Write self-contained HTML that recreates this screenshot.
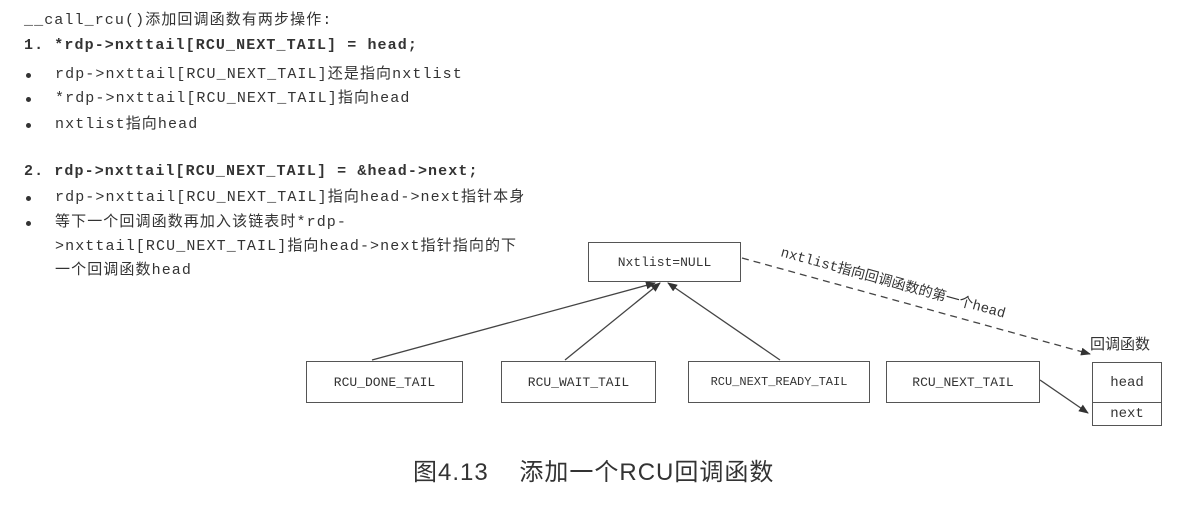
<!DOCTYPE html>
<html><head><meta charset="utf-8"><style>
body{margin:0;width:1190px;height:516px;background:#fff;position:relative;overflow:hidden;font-family:"Liberation Mono","Noto Sans CJK SC",monospace;color:#333}
.t{position:absolute;font-size:15px;letter-spacing:1.1px;white-space:nowrap;line-height:18px}
.b{font-weight:bold}
.box{position:absolute;border:1.3px solid #555;box-sizing:border-box;display:flex;align-items:center;justify-content:center;font-size:13px;background:#fff}
.dot{position:absolute;width:5px;height:5px;border-radius:50%;background:#333}
</style></head><body>
<div class="t" style="left:24px;top:12px">__call_rcu()添加回调函数有两步操作:</div>
<div class="t b" style="left:24px;top:37px">1. *rdp-&gt;nxttail[RCU_NEXT_TAIL] = head;</div>
<div class="dot" style="left:26px;top:73px"></div><div class="t" style="left:55px;top:66px">rdp-&gt;nxttail[RCU_NEXT_TAIL]还是指向nxtlist</div>
<div class="dot" style="left:26px;top:97px"></div><div class="t" style="left:55px;top:90px">*rdp-&gt;nxttail[RCU_NEXT_TAIL]指向head</div>
<div class="dot" style="left:26px;top:123px"></div><div class="t" style="left:55px;top:116px">nxtlist指向head</div>
<div class="t b" style="left:24px;top:163px">2. rdp-&gt;nxttail[RCU_NEXT_TAIL] = &amp;head-&gt;next;</div>
<div class="dot" style="left:26px;top:196px"></div><div class="t" style="left:55px;top:189px">rdp-&gt;nxttail[RCU_NEXT_TAIL]指向head-&gt;next指针本身</div>
<div class="dot" style="left:26px;top:221px"></div><div class="t" style="left:55px;top:214px">等下一个回调函数再加入该链表时*rdp-</div>
<div class="t" style="left:55px;top:238px">&gt;nxttail[RCU_NEXT_TAIL]指向head-&gt;next指针指向的下</div>
<div class="t" style="left:55px;top:262px">一个回调函数head</div>

<svg width="1190" height="516" style="position:absolute;left:0;top:0">
<defs><marker id="a" markerWidth="10" markerHeight="8" refX="9" refY="4" orient="auto" markerUnits="userSpaceOnUse"><path d="M0,0 L10,4 L0,8z" fill="#333"/></marker></defs>
<g stroke="#444" stroke-width="1.3" fill="none">
<line x1="372" y1="360" x2="655" y2="283" marker-end="url(#a)"/>
<line x1="565" y1="360" x2="660" y2="283" marker-end="url(#a)"/>
<line x1="780" y1="360" x2="668" y2="283" marker-end="url(#a)"/>
<line x1="742" y1="258" x2="1090" y2="354" stroke-dasharray="7,5" marker-end="url(#a)"/>
<line x1="1040" y1="380" x2="1088" y2="413" marker-end="url(#a)"/>
</g>
<text x="0" y="0" font-size="14" fill="#333" font-family="Liberation Mono,Noto Sans CJK SC,monospace" transform="translate(780,256) rotate(15.4)">nxtlist指向回调函数的第一个head</text>
</svg>

<div class="box" style="left:588px;top:242px;width:153px;height:40px">Nxtlist=NULL</div>
<div class="box" style="left:306px;top:361px;width:157px;height:42px">RCU_DONE_TAIL</div>
<div class="box" style="left:501px;top:361px;width:155px;height:42px">RCU_WAIT_TAIL</div>
<div class="box" style="left:688px;top:361px;width:182px;height:42px;font-size:12px">RCU_NEXT_READY_TAIL</div>
<div class="box" style="left:886px;top:361px;width:154px;height:42px">RCU_NEXT_TAIL</div>
<div class="t" style="left:1090px;top:337px;font-size:15px;letter-spacing:0">回调函数</div>
<div class="box" style="left:1092px;top:362px;width:70px;height:41px;font-size:14px">head</div>
<div class="box" style="left:1092px;top:402px;width:70px;height:24px;font-size:14px">next</div>
<div style="position:absolute;left:413px;top:452px;font-size:24px;letter-spacing:1px;font-family:'Liberation Sans','Noto Sans CJK SC',sans-serif;color:#333;white-space:nowrap">图4.13&nbsp;&nbsp;&nbsp;&nbsp;添加一个RCU回调函数</div>
</body></html>
